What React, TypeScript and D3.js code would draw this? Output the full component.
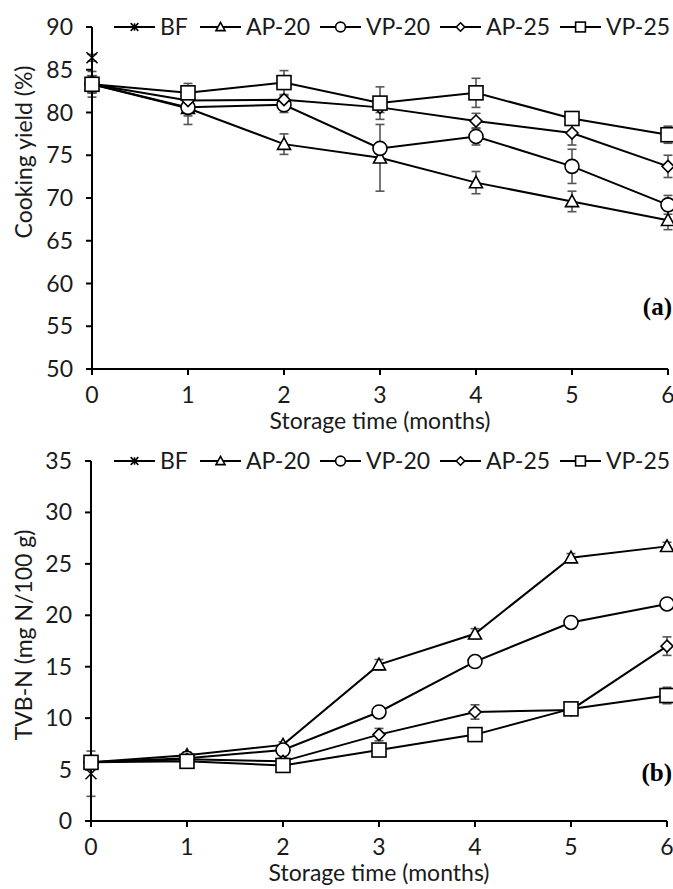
import React from "react";
import * as d3 from "d3";

const months = [0, 1, 2, 3, 4, 5, 6];
const seriesNames = ["BF", "AP-20", "VP-20", "AP-25", "VP-25"];

// (a) cooking yield, %
const yieldBF = [86.4];
const yieldBFsd = [0.4];
const yieldAP20 = [83.3, 80.5, 76.3, 74.7, 71.8, 69.6, 67.4];
const yieldAP20sd = [1.0, 1.9, 1.2, 3.9, 1.3, 1.2, 1.1];
const yieldVP20 = [83.3, 80.6, 80.9, 75.8, 77.2, 73.7, 69.2];
const yieldVP20sd = [1.0, 1.0, 0.9, 0.6, 1.0, 2.0, 1.1];
const yieldAP25 = [83.3, 81.4, 81.5, 80.6, 79.0, 77.6, 73.7];
const yieldAP25sd = [1.0, 0.5, 0.5, 0.6, 0.9, 1.4, 1.3];
const yieldVP25 = [83.3, 82.3, 83.5, 81.1, 82.3, 79.3, 77.4];
const yieldVP25sd = [1.5, 1.1, 1.4, 1.9, 1.7, 0.5, 1.0];
const yieldTicks = [50, 55, 60, 65, 70, 75, 80, 85, 90];

// (b) TVB-N, mg N/100 g
const tvbBF = [4.6];
const tvbBFsd = [2.2];
const tvbAP20 = [5.7, 6.4, 7.4, 15.2, 18.2, 25.6, 26.7];
const tvbAP20sd = [0.3, 0.3, 0.3, 0.5, 0.5, 0.4, 0.4];
const tvbVP20 = [5.7, 6.1, 6.9, 10.6, 15.5, 19.3, 21.1];
const tvbVP20sd = [0.3, 0.3, 0.4, 0.3, 0.4, 0.5, 0.4];
const tvbAP25 = [5.7, 6.0, 5.8, 8.4, 10.6, 10.8, 17.0];
const tvbAP25sd = [0.3, 0.3, 0.3, 0.6, 0.7, 0.3, 0.9];
const tvbVP25 = [5.7, 5.8, 5.4, 6.9, 8.4, 10.9, 12.2];
const tvbVP25sd = [0.3, 0.3, 0.3, 0.3, 0.3, 0.5, 0.8];
const tvbTicks = [0, 5, 10, 15, 20, 25, 30, 35];

const FONT = "Lato, 'Open Sans', sans-serif";
const INK = "#1a1a1a";

type Shape = "star" | "triangle" | "circle" | "diamond" | "square";
const shapes: Shape[] = ["star", "triangle", "circle", "diamond", "square"];

function Marker({ shape, cx, cy, s }: { shape: Shape; cx: number; cy: number; s: number }) {
  const h = s / 2;
  const common = { fill: "#fff", stroke: "#000", strokeWidth: 1.6 };
  if (shape === "square") return <rect x={cx - h} y={cy - h} width={s} height={s} {...common} />;
  if (shape === "circle") return <circle cx={cx} cy={cy} r={h} {...common} />;
  if (shape === "triangle")
    return <path d={`M${cx},${cy - h}L${cx + h},${cy + h * 0.8}L${cx - h},${cy + h * 0.8}Z`} {...common} />;
  if (shape === "diamond")
    return <path d={`M${cx},${cy - h}L${cx + h},${cy}L${cx},${cy + h}L${cx - h},${cy}Z`} {...common} />;
  return (
    <path
      d={`M${cx - h},${cy - h}L${cx + h},${cy + h}M${cx + h},${cy - h}L${cx - h},${cy + h}M${cx},${cy - h}L${cx},${cy + h}`}
      stroke="#000"
      strokeWidth={1.5}
      fill="none"
    />
  );
}

const markerSize: Record<Shape, number> = { star: 11, triangle: 13, circle: 14, diamond: 12, square: 14 };
const legendLineX = [114, 200, 320, 440, 560];

type Panel = {
  values: number[][];
  sds: number[][];
  ticks: number[];
  domain: [number, number];
  top: number;
  bottom: number;
  left: number;
  right: number;
  ylabel: string;
  ylabelY: number;
  tag: string;
  tagY: number;
};

function ChartPanel({ p }: { p: Panel }) {
  const x = d3.scaleLinear().domain([0, 6]).range([p.left, p.right]);
  const y = d3.scaleLinear().domain(p.domain).range([p.bottom, p.top]);
  const line = d3
    .line<number>()
    .x((_, i) => x(months[i]))
    .y((d) => y(d));

  return (
    <g>
      {/* error bars */}
      {p.values.map((vals, si) =>
        vals.map((v, i) => {
          const sd = p.sds[si][i];
          const cx = x(months[i]);
          const y1 = y(v + sd);
          const y2 = y(v - sd);
          return (
            <g key={`e${si}-${i}`} stroke="#555" strokeWidth={1.6}>
              <line x1={cx} x2={cx} y1={y1} y2={y2} />
              <line x1={cx - 4.5} x2={cx + 4.5} y1={y1} y2={y1} />
              <line x1={cx - 4.5} x2={cx + 4.5} y1={y2} y2={y2} />
            </g>
          );
        })
      )}

      {/* axes */}
      <line x1={p.left} x2={p.left} y1={p.top} y2={p.bottom} stroke="#000" strokeWidth={2} />
      <line x1={p.left} x2={p.right} y1={p.bottom} y2={p.bottom} stroke="#000" strokeWidth={2} />
      {p.ticks.map((t) => (
        <g key={`yt${t}`}>
          <line x1={p.left - 6} x2={p.left} y1={y(t)} y2={y(t)} stroke="#000" strokeWidth={2} />
          <text x={p.left - 19} y={y(t)} dy="0.35em" textAnchor="end" fontSize={23} fontFamily={FONT} fill={INK}>
            {t}
          </text>
        </g>
      ))}
      {months.map((m) => (
        <g key={`xt${m}`}>
          <line x1={x(m)} x2={x(m)} y1={p.bottom} y2={p.bottom + 6} stroke="#000" strokeWidth={2} />
          <text x={x(m)} y={p.bottom + 26} dy="0.35em" textAnchor="middle" fontSize={23} fontFamily={FONT} fill={INK}>
            {m}
          </text>
        </g>
      ))}

      {/* series */}
      {p.values.map((vals, si) => (
        <g key={`s${si}`}>
          {vals.length > 1 && <path d={line(vals) || ""} fill="none" stroke="#000" strokeWidth={2} />}
          {vals.map((v, i) => (
            <Marker key={i} shape={shapes[si]} cx={x(months[i])} cy={y(v)} s={markerSize[shapes[si]]} />
          ))}
        </g>
      ))}

      {/* legend */}
      {seriesNames.map((name, si) => {
        const lx = legendLineX[si];
        const ly = p.top;
        return (
          <g key={`lg${si}`}>
            <line x1={lx} x2={lx + 41} y1={ly} y2={ly} stroke="#000" strokeWidth={2} />
            <Marker shape={shapes[si]} cx={lx + 20.5} cy={ly} s={markerSize[shapes[si]] * 0.7} />
            <text x={lx + 46} y={ly} dy="0.35em" fontSize={23} fontFamily={FONT} fill={INK}>
              {name}
            </text>
          </g>
        );
      })}

      {/* titles */}
      <text
        transform={`translate(24,${p.ylabelY}) rotate(-90)`}
        textAnchor="middle"
        dy="0.35em"
        fontSize={23}
        fontFamily={FONT}
        fill={INK}
      >
        {p.ylabel}
      </text>
      <text x={(p.left + p.right) / 2} y={p.bottom + 52} dy="0.35em" textAnchor="middle" fontSize={23} fontFamily={FONT} fill={INK}>
        Storage time (months)
      </text>
      <text
        x={672}
        y={p.tagY}
        dy="0.35em"
        textAnchor="end"
        fontSize={25}
        fontWeight="bold"
        fontFamily="'Liberation Serif', 'Times New Roman', serif"
        fill="#000"
      >
        {p.tag}
      </text>
    </g>
  );
}

const panelA: Panel = {
  values: [yieldBF, yieldAP20, yieldVP20, yieldAP25, yieldVP25],
  sds: [yieldBFsd, yieldAP20sd, yieldVP20sd, yieldAP25sd, yieldVP25sd],
  ticks: yieldTicks,
  domain: [50, 90],
  top: 27,
  bottom: 369,
  left: 92,
  right: 668,
  ylabel: "Cooking yield (%)",
  ylabelY: 152,
  tag: "(a)",
  tagY: 306,
};

const panelB: Panel = {
  values: [tvbBF, tvbAP20, tvbVP20, tvbAP25, tvbVP25],
  sds: [tvbBFsd, tvbAP20sd, tvbVP20sd, tvbAP25sd, tvbVP25sd],
  ticks: tvbTicks,
  domain: [0, 35],
  top: 461,
  bottom: 821,
  left: 91,
  right: 667,
  ylabel: "TVB-N (mg N/100 g)",
  ylabelY: 635,
  tag: "(b)",
  tagY: 772,
};

export default function App() {
  return (
    <svg width={673} height={889} style={{ position: "absolute", left: 0, top: 0, background: "#fff" }}>
      <ChartPanel p={panelA} />
      <ChartPanel p={panelB} />
    </svg>
  );
}
